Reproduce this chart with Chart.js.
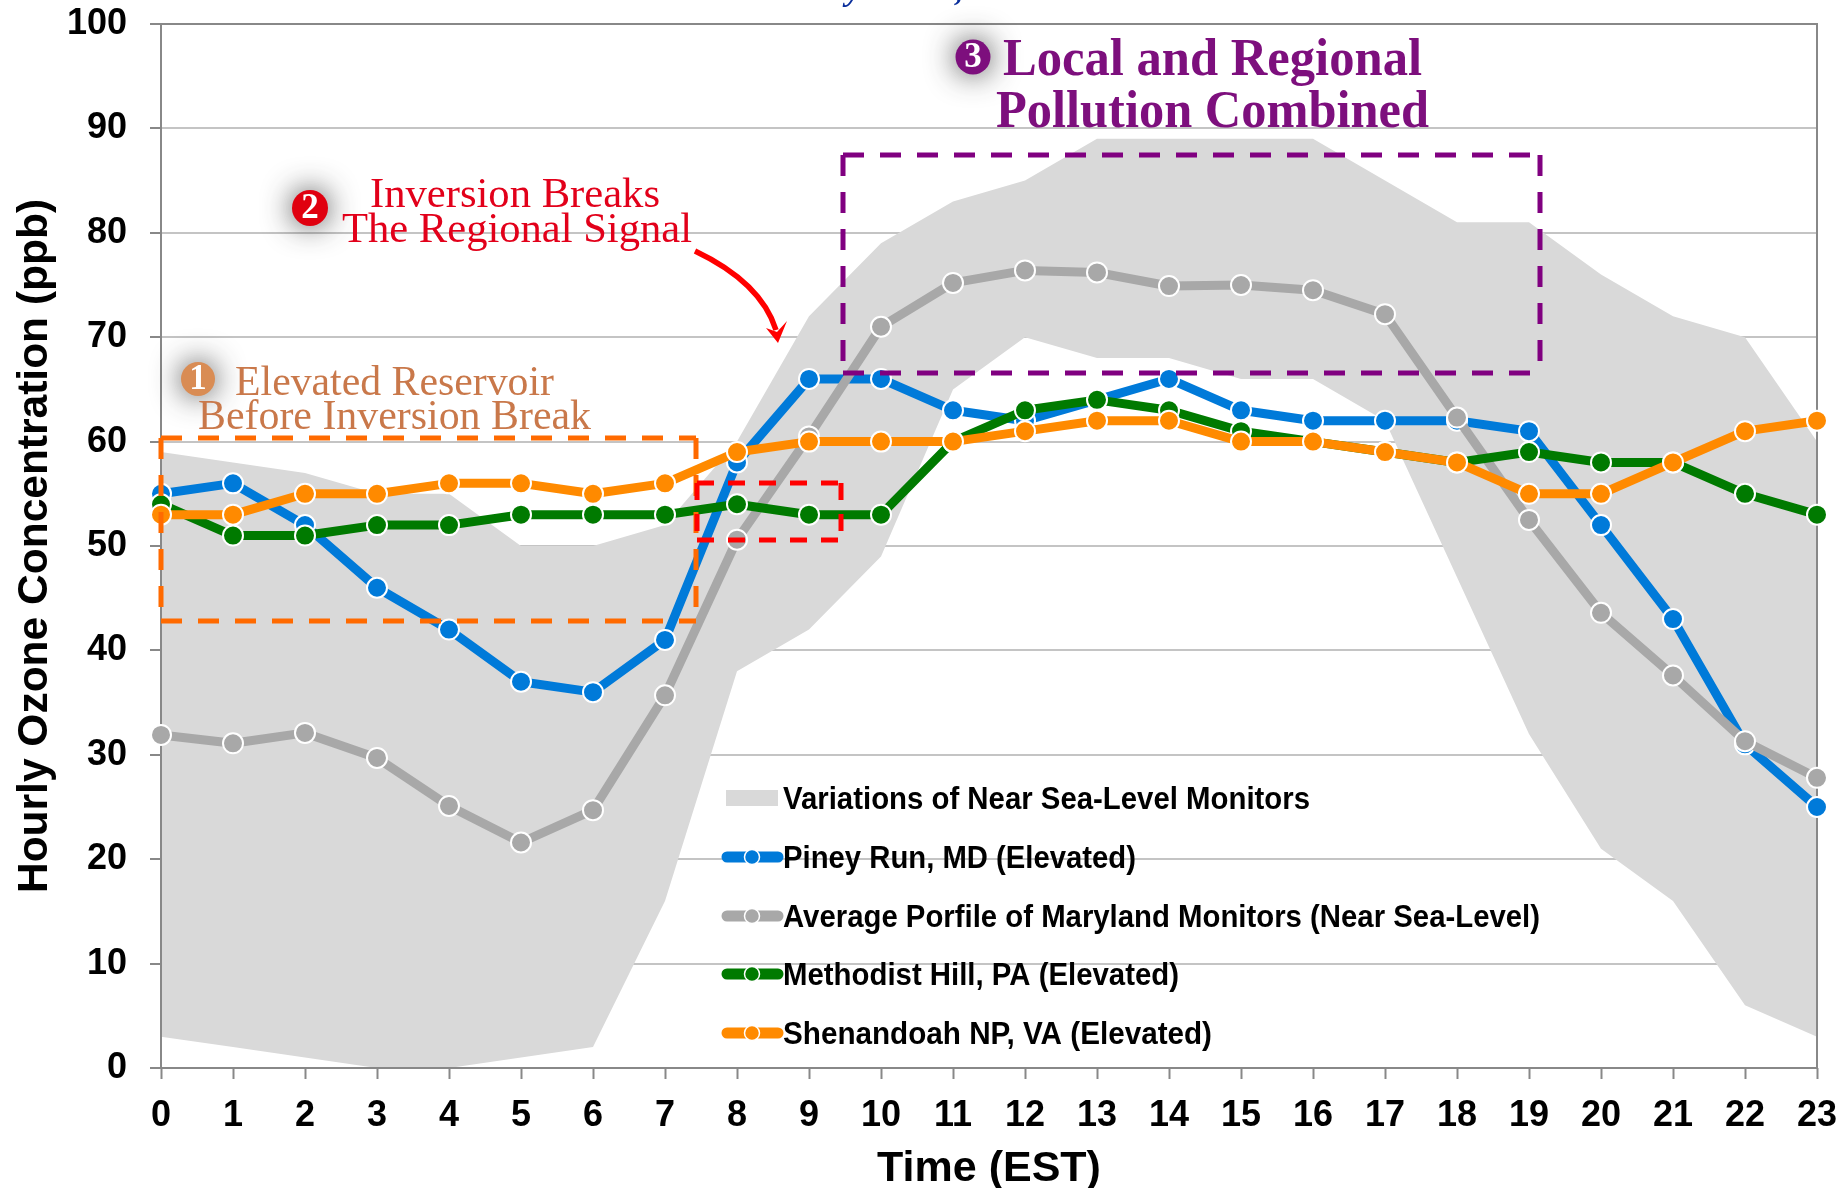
<!DOCTYPE html>
<html>
<head>
<meta charset="utf-8">
<style>html,body{margin:0;padding:0;background:#fff}canvas{display:block}#w{width:1847px;height:1188px}</style>
<script src="https://cdn.jsdelivr.net/npm/chart.js@4"></script>
</head>
<body>
<div id="w"><canvas id="c" width="1847" height="1188"></canvas></div>
<script>
const hours = ['0','1','2','3','4','5','6','7','8','9','10','11','12','13','14','15','16','17','18','19','20','21','22','23'];
const bandLower = [3,2,1,0,0,1,2,16,38,42,49,65,70,68,68,66,66,62,47,32,21,16,6,3];
const bandUpper = [59,58,57,55,55,50,50,52,60,72,79,83,85,89,89,89,89,85,81,81,76,72,70,60];
const pineyRun = [55,56,52,46,42,37,36,41,58,66,66,63,62,64,66,63,62,62,62,61,52,43,31,25];
const marylandAvg = [31.9,31.1,32.1,29.7,25.1,21.6,24.7,35.7,50.6,60.5,71,75.2,76.4,76.2,74.9,75,74.5,72.2,62.3,52.5,43.6,37.6,31.3,27.8];
const methodistHill = [54,51,51,52,52,53,53,53,54,53,53,60,63,64,63,61,60,59,58,59,58,58,55,53];
const shenandoah = [53,53,55,55,56,56,55,56,59,60,60,60,61,62,62,60,60,59,58,55,55,58,61,62];
const names = ['Variations of Near Sea-Level Monitors','Piney Run, MD (Elevated)','Average Porfile of Maryland Monitors (Near Sea-Level)','Methodist Hill, PA (Elevated)','Shenandoah NP, VA (Elevated)'];
const BLUE='#007ad9', GRAY='#a8a8a8', GREEN='#007a00', ORANGE='#ff8a00', BAND='#d9d9d9', FRAME='#888888';
const SANS='"Liberation Sans", Arial, sans-serif', SERIF='"Liberation Serif", "Times New Roman", serif';

function line(label,data,color,order){
  return {type:'line',label,data,borderColor:color,backgroundColor:color,borderWidth:9,
    pointRadius:10,pointHoverRadius:10,pointBackgroundColor:color,pointBorderColor:'#ffffff',pointBorderWidth:2,
    tension:0,fill:false,clip:false,order,borderJoinStyle:'round'};
}
function fitText(ctx,text,x,yc,w,font,color){
  ctx.save();ctx.font=font;ctx.fillStyle=color;ctx.textBaseline='middle';ctx.textAlign='left';
  const m=ctx.measureText(text).width;
  ctx.translate(x,yc);ctx.scale(w/m,1);ctx.fillText(text,0,0);ctx.restore();
}
function dashedBox(ctx,x0,x1,y0,y1,color,dash){
  ctx.save();ctx.strokeStyle=color;ctx.lineWidth=5;ctx.setLineDash(dash);
  ctx.beginPath();ctx.moveTo(x0,y0);ctx.lineTo(x1,y0);ctx.stroke();
  ctx.beginPath();ctx.moveTo(x0,y1);ctx.lineTo(x1,y1);ctx.stroke();
  ctx.beginPath();ctx.moveTo(x0,y0);ctx.lineTo(x0,y1);ctx.stroke();
  ctx.beginPath();ctx.moveTo(x1,y0);ctx.lineTo(x1,y1);ctx.stroke();
  ctx.restore();
}
function badge(ctx,x,y,r,color,num){
  ctx.save();
  ctx.shadowColor='rgba(40,40,40,0.85)';ctx.shadowBlur=30;
  ctx.fillStyle=color;ctx.beginPath();ctx.arc(x,y,r,0,Math.PI*2);ctx.fill();
  ctx.shadowBlur=0;ctx.shadowColor='transparent';
  ctx.fillStyle='#fff';ctx.font='bold 35px '+SERIF;ctx.textAlign='center';ctx.textBaseline='middle';
  ctx.fillText(num,x,y+1);ctx.restore();
}
const frame={id:'frame',beforeDatasetDraw(chart,args){
  if(chart.data.datasets[args.index].label!==names[1])return;
  const a=chart.chartArea,c=chart.ctx;
  c.save();c.strokeStyle=FRAME;c.lineWidth=2;c.strokeRect(a.left,a.top,a.right-a.left,a.bottom-a.top);c.restore();
}};
const notes={id:'notes',afterDatasetsDraw(chart){
  const c=chart.ctx,x=chart.scales.x;
  const rows=[798,857,916,974,1033];
  const colors=[null,BLUE,GRAY,GREEN,ORANGE];
  const legendFont='bold 31px '+SANS;
  const widths=[527,353,757,396,429];
  rows.forEach((yc,i)=>{
    if(i===0){c.fillStyle=BAND;c.fillRect(726,yc-8,52,16);}
    else{
      c.save();c.strokeStyle=colors[i];c.lineWidth=11;c.lineCap='round';
      c.beginPath();c.moveTo(727,yc);c.lineTo(778,yc);c.stroke();
      c.fillStyle=colors[i];c.strokeStyle='#fff';c.lineWidth=1.5;c.lineCap='butt';
      c.beginPath();c.arc(752,yc,7.5,0,Math.PI*2);c.fill();c.stroke();c.restore();
    }
    fitText(c,names[i],783,yc+2,widths[i],legendFont,'#000');
  });
  dashedBox(c,x.left,696,438,621,'#ff6a00',[21,16]);
  dashedBox(c,697,841,483,540,'#ff0000',[17,14]);
  dashedBox(c,843,1540,155,373,'#800080',[21,16]);
  badge(c,198,379,17,'#d98c54','1');
  fitText(c,'Elevated Reservoir',235,384,319,'43px '+SERIF,'#c9784a');
  fitText(c,'Before Inversion Break',198,418,393,'43px '+SERIF,'#c9784a');
  badge(c,310,208,18,'#e0000f','2');
  fitText(c,'Inversion Breaks',370,196,290,'43px '+SERIF,'#e2001a');
  fitText(c,'The Regional Signal',342,231,350,'43px '+SERIF,'#e2001a');
  badge(c,973,57,17.5,'#7d0f7d','3');
  fitText(c,'Local and Regional',1003,62,419,'bold 52px '+SERIF,'#7d0f7d');
  fitText(c,'Pollution Combined',996,114,433,'bold 52px '+SERIF,'#7d0f7d');
  c.save();c.strokeStyle='#ff0000';c.fillStyle='#ff0000';c.lineWidth=5.5;
  c.beginPath();c.moveTo(695,251);c.bezierCurveTo(735,270,765,295,776,330);c.stroke();
  c.beginPath();c.moveTo(778,343);c.lineTo(766,328);c.lineTo(777,332);c.lineTo(787,321);c.closePath();c.fill();c.restore();
  c.save();c.fillStyle='#0a2f9c';c.font='italic bold 34px '+SERIF;c.textBaseline='alphabetic';c.textAlign='left';
  c.fillText('y',846,0);c.fillText(',',955,0);c.restore();
}};
new Chart(document.getElementById('c'),{
  data:{labels:hours,datasets:[
    {type:'line',label:'lower',data:bandLower,borderWidth:0,pointRadius:0,fill:false,order:6,tension:0},
    {type:'line',label:names[0],data:bandUpper,borderWidth:0,pointRadius:0,fill:'-1',backgroundColor:BAND,order:5,tension:0},
    line(names[1],pineyRun,BLUE,4),
    line(names[2],marylandAvg,GRAY,3),
    line(names[3],methodistHill,GREEN,2),
    line(names[4],shenandoah,ORANGE,1)
  ]},
  options:{
    responsive:false,animation:false,
    devicePixelRatio:1,
    layout:{padding:{top:24,right:30,left:0,bottom:0}},
    plugins:{legend:{display:false},title:{display:false},tooltip:{enabled:false}},
    scales:{
      x:{type:'category',offset:false,
        grid:{drawOnChartArea:false,drawTicks:true,tickLength:11,tickColor:FRAME,tickWidth:2},
        border:{display:false},
        ticks:{color:'#000',font:{family:SANS,size:36,weight:'bold'},padding:15,maxRotation:0,autoSkip:false},
        title:{display:true,text:'Time (EST)',color:'#000',font:{family:SANS,size:43,weight:'bold'},padding:{top:0,bottom:-7}},
        afterFit(s){s.height=120;s.paddingLeft=0;s.paddingRight=0;}
      },
      y:{min:0,max:100,
        grid:{color:'#c4c4c4',lineWidth:2,tickColor:FRAME,tickWidth:2,tickLength:11},
        border:{display:false},
        ticks:{stepSize:10,color:'#000',font:{family:SANS,size:36,weight:'bold'},padding:23},
        title:{display:true,text:'Hourly Ozone Concentration (ppb)',color:'#000',font:{family:SANS,size:42.5,weight:'bold'},padding:{top:10,bottom:0}},
        afterFit(s){s.width=161;s.paddingTop=0;s.paddingBottom=0;}
      }
    }
  },
  plugins:[frame,notes]
});
</script>
</body>
</html>
